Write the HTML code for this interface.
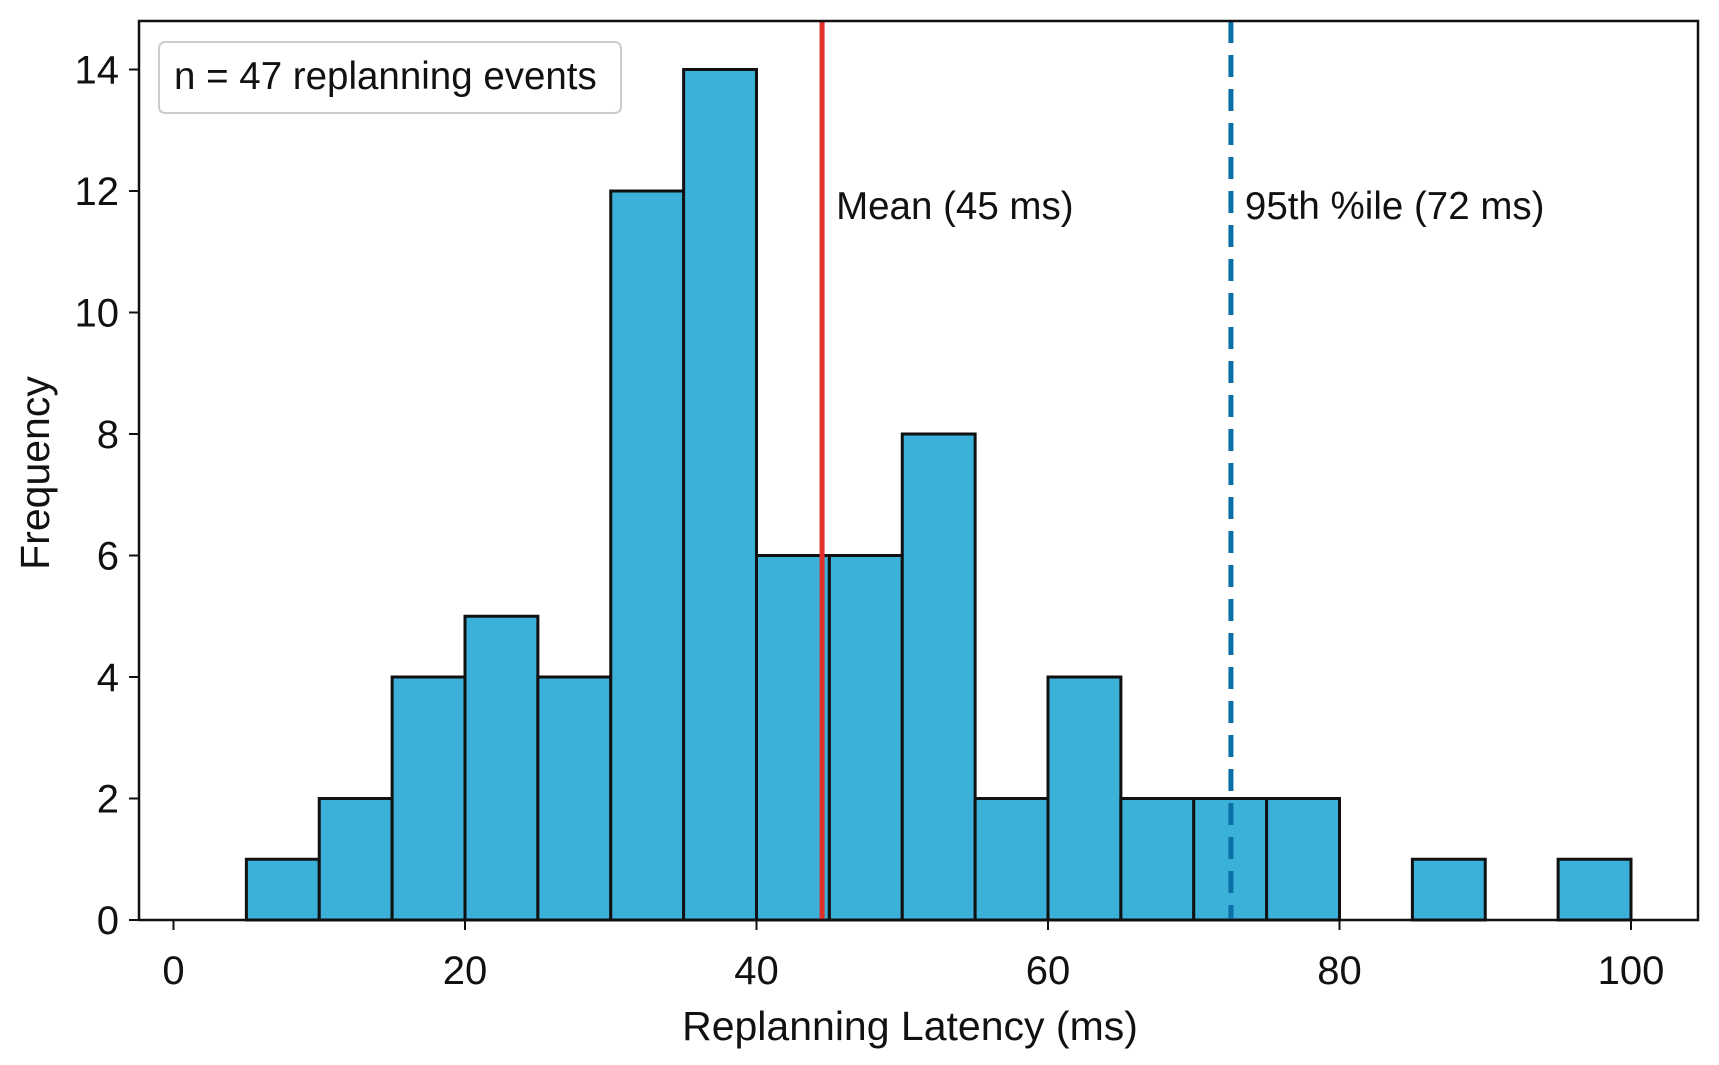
<!DOCTYPE html>
<html><head><meta charset="utf-8"><style>
body{margin:0;background:#fff;}
svg{display:block;font-family:"Liberation Sans",Arial,sans-serif;}
</style></head><body>
<svg id="chart" width="1719" height="1065" viewBox="0 0 1719 1065"></svg>
<script>
const binStarts = [5,10,15,20,25,30,35,40,45,50,55,60,65,70,75,80,85,90,95];
const counts =    [1,2,4,5,4,12,14,6,6,8,2,4,2,2,2,0,1,0,1];
const binWidth = 5;
const xTicks = [0,20,40,60,80,100];
const yTicks = [0,2,4,6,8,10,12,14];
const meanValue = 44.5;
const p95Value = 72.55;
const meanLabel = "Mean (45 ms)";
const p95Label = "95th %ile (72 ms)";

const NS = "http://www.w3.org/2000/svg";
const svg = document.getElementById('chart');
const L = 139, R = 1698, T = 21, B = 920;
const x = v => 173.5 + v * 14.575;
const y = v => 920 - v * 60.75;
function mk(tag, attrs, parent){ const e=document.createElementNS(NS,tag); for(const k in attrs) e.setAttribute(k,attrs[k]); (parent||svg).appendChild(e); return e; }

const barsG = mk('g',{});


binStarts.forEach((s,i)=>{
  if(counts[i]<=0) return;
  const r = mk('rect',{x:x(s),y:y(counts[i]),width:x(s+binWidth)-x(s),height:y(0)-y(counts[i]),fill:'#3bb0d8',stroke:'#111',"stroke-width":3},barsG);
  
  
});

const ml = mk('line',{x1:x(meanValue),x2:x(meanValue),y1:T,y2:B,stroke:'#e0302a',"stroke-width":5});


const pl = mk('line',{x1:x(p95Value),x2:x(p95Value),y1:T,y2:B,stroke:'#0b6fa8',"stroke-width":5,"stroke-dasharray":"22 12"});



const mt = mk('text',{x:x(meanValue)+14,y:219,"font-size":38.5,fill:'#111'}); mt.textContent=meanLabel;


const pt = mk('text',{x:x(p95Value)+14,y:219,"font-size":38.5,fill:'#111'}); pt.textContent=p95Label;



const frame = mk('rect',{x:L,y:T,width:R-L,height:B-T,fill:'none',stroke:'#111',"stroke-width":2.5});



xTicks.forEach(v=>{
  const tl = mk('line',{x1:x(v),x2:x(v),y1:B,y2:B+10,stroke:'#111',"stroke-width":2});
  
  
  const t = mk('text',{x:x(v),y:984,"font-size":40,"text-anchor":'middle',fill:'#111'}); t.textContent=v;
  
  
});
yTicks.forEach(v=>{
  const tl = mk('line',{x1:L-10,x2:L,y1:y(v),y2:y(v),stroke:'#111',"stroke-width":2});
  
  
  const t = mk('text',{x:L-20,y:y(v)+14,"font-size":40,"text-anchor":'end',fill:'#111'}); t.textContent=v;
  
  
});

const xt = mk('text',{x:910,y:1040,"font-size":41,"text-anchor":'middle',fill:'#111'}); xt.textContent='Replanning Latency (ms)';


const yt = mk('text',{x:0,y:0,"font-size":41,"text-anchor":'middle',fill:'#111',transform:'translate(49,473) rotate(-90)'}); yt.textContent='Frequency';



const lg = mk('rect',{x:159,y:42,width:462,height:71,rx:6,fill:'#fff',stroke:'#ccc',"stroke-width":2});


const lt = mk('text',{x:174,y:89,"font-size":38.5,fill:'#111'}); lt.textContent='n = 47 replanning events';


</script>
</body></html>
